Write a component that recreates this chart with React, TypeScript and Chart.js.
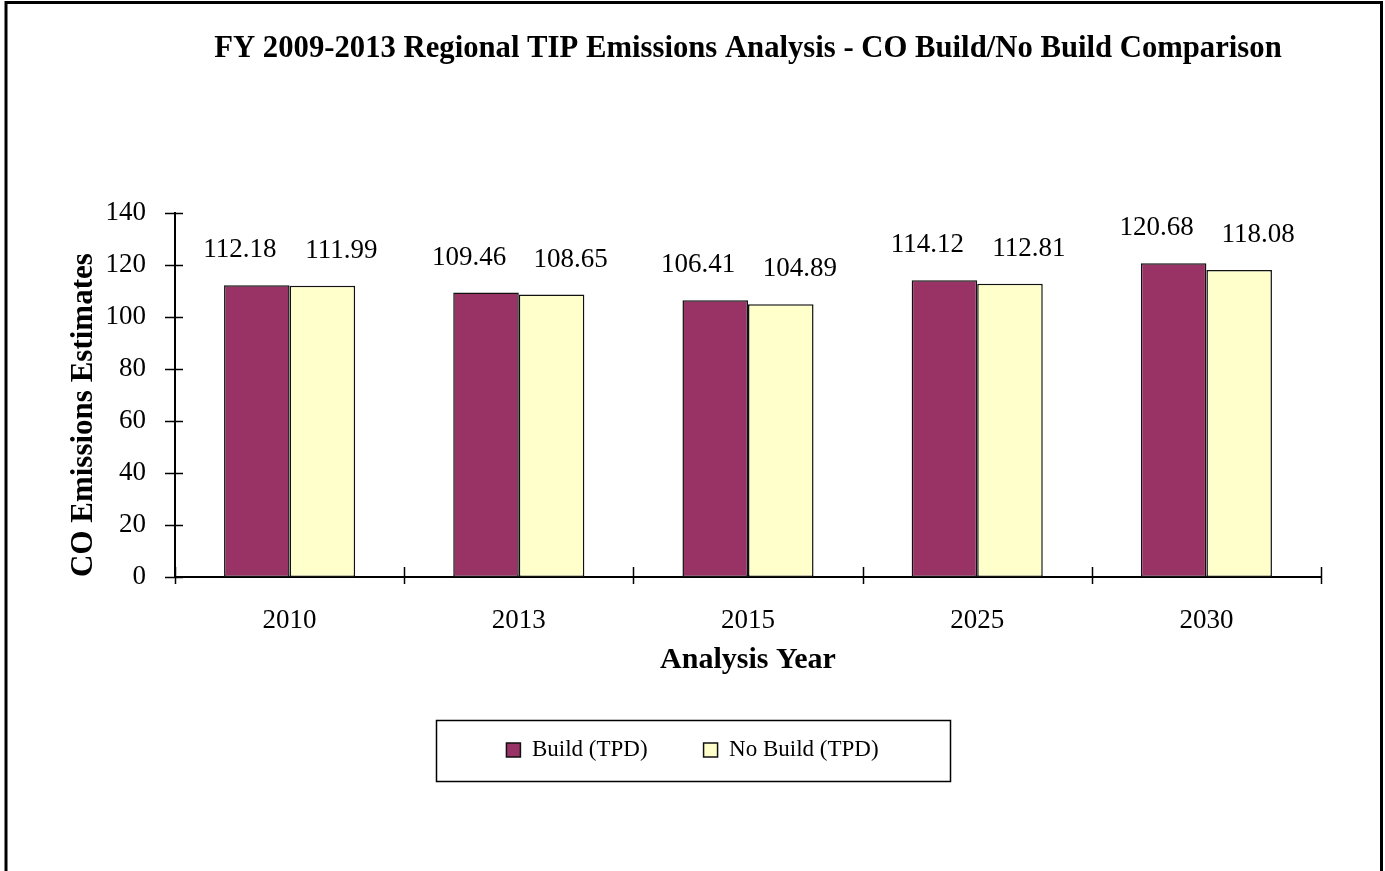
import React, { useEffect, useRef } from 'react';
import { Chart, registerables } from 'chart.js';

Chart.register(...registerables);

// ---- data ----
const years: string[] = ['2010', '2013', '2015', '2025', '2030'];
const buildValues: number[] = [112.18, 109.46, 106.41, 114.12, 120.68];
const noBuildValues: number[] = [111.99, 108.65, 104.89, 112.81, 118.08];
const seriesNames: string[] = ['Build (TPD)', 'No Build (TPD)'];
const yMin = 0;
const yMax = 140;
const yStep = 20;
const chartTitle = 'FY 2009-2013 Regional TIP Emissions Analysis - CO Build/No Build Comparison';
const yAxisTitle = 'CO Emissions Estimates';
const xAxisTitle = 'Analysis Year';

// ---- style ----
const FONT = "'Liberation Serif', 'Times New Roman', serif";
const BUILD_COLOR = '#993366';
const NOBUILD_COLOR = '#FFFFCC';
const EDGE = '#111111';
const LABEL_DX = [-17, 19];
const LABEL_DY = -35;

const bgPlugin = {
  id: 'bg',
  beforeDraw(chart: any) {
    const ctx = chart.ctx;
    ctx.save();
    ctx.fillStyle = '#fff';
    ctx.fillRect(0, 0, chart.width, chart.height);
    ctx.restore();
  },
};

const framePlugin = {
  id: 'frame',
  afterDraw(chart: any) {
    const ctx = chart.ctx;
    ctx.save();
    ctx.strokeStyle = '#000';
    ctx.lineWidth = 3;
    ctx.strokeRect(6, 2.5, chart.width - 9.5, chart.height + 20);
    ctx.restore();
  },
};

const valueLabelPlugin = {
  id: 'valueLabels',
  afterDatasetsDraw(chart: any) {
    const ctx = chart.ctx;
    ctx.save();
    ctx.font = `27px ${FONT}`;
    ctx.fillStyle = '#000';
    ctx.textAlign = 'center';
    ctx.textBaseline = 'middle';
    chart.data.datasets.forEach((ds: any, di: number) => {
      const meta = chart.getDatasetMeta(di);
      meta.data.forEach((bar: any, i: number) => {
        const v = ds.data[i] as number;
        ctx.fillText(v.toFixed(2), bar.x + LABEL_DX[di], bar.y + LABEL_DY);
      });
    });
    ctx.restore();
  },
};

const crossTickPlugin = {
  id: 'crossTicks',
  afterDraw(chart: any) {
    const ctx = chart.ctx;
    const xs = chart.scales.x;
    const ys = chart.scales.y;
    const area = chart.chartArea;
    ctx.save();
    ctx.strokeStyle = '#000';
    ctx.lineWidth = 1.5;
    ctx.beginPath();
    ys.ticks.forEach((t: any) => {
      const py = Math.round(ys.getPixelForValue(t.value)) + 0.5;
      ctx.moveTo(area.left - 10, py);
      ctx.lineTo(area.left + 8, py);
    });
    const n = chart.data.labels.length;
    for (let i = 0; i <= n; i++) {
      const px = Math.round(xs.left + (i * xs.width) / n) + 0.5;
      ctx.moveTo(px, area.bottom - 10);
      ctx.lineTo(px, area.bottom + 7);
    }
    ctx.stroke();
    ctx.restore();
  },
};

const legendBoxPlugin = {
  id: 'legendBox',
  afterDraw(chart: any) {
    const lg = chart.legend;
    if (!lg || !lg.legendHitBoxes || !lg.legendHitBoxes.length) return;
    const hb = lg.legendHitBoxes;
    const first = hb[0];
    const last = hb[hb.length - 1];
    const cy = first.top + first.height / 2;
    const cx = (first.left + last.left + last.width) / 2;
    const w = 514;
    const h = 61;
    const ctx = chart.ctx;
    ctx.save();
    ctx.strokeStyle = '#000';
    ctx.lineWidth = 1.5;
    ctx.strokeRect(Math.round(cx - w / 2) + 0.5, Math.round(cy - h / 2) + 0.5, w, h);
    ctx.restore();
  },
};

export default function App() {
  const ref = useRef<HTMLCanvasElement | null>(null);

  useEffect(() => {
    if (!ref.current) return;
    const chart = new Chart(ref.current, {
      type: 'bar',
      data: {
        labels: years,
        datasets: [
          {
            label: seriesNames[0],
            data: buildValues,
            backgroundColor: BUILD_COLOR,
            borderColor: EDGE,
            borderWidth: 1.5,
            borderSkipped: false,
            barPercentage: 1,
            categoryPercentage: 0.572,
          },
          {
            label: seriesNames[1],
            data: noBuildValues,
            backgroundColor: NOBUILD_COLOR,
            borderColor: EDGE,
            borderWidth: 1.5,
            borderSkipped: false,
            barPercentage: 1,
            categoryPercentage: 0.572,
          },
        ],
      },
      options: {
        responsive: false,
        animation: false,
        devicePixelRatio: 1,
        layout: { padding: { top: 0, left: 0, right: 0, bottom: 99.5 } },
        plugins: {
          title: {
            display: true,
            text: chartTitle,
            fullSize: false,
            color: '#000',
            font: { family: FONT, size: 30.7, weight: 'bold', lineHeight: 1.2 },
            padding: { top: 30.5, bottom: 145.7 },
          },
          legend: {
            display: true,
            position: 'bottom',
            labels: {
              color: '#000',
              font: { family: FONT, size: 23 },
              boxWidth: 14,
              boxHeight: 14,
              padding: 56,
            },
          },
          tooltip: { enabled: false },
        },
        scales: {
          x: {
            afterFit(scale: any) {
              scale.height = 105.5;
            },
            grid: { display: false, drawTicks: false },
            border: { display: true, color: '#000', width: 2 },
            ticks: {
              color: '#000',
              font: { family: FONT, size: 27 },
              padding: 28,
            },
            title: {
              display: true,
              text: xAxisTitle,
              color: '#000',
              font: { family: FONT, size: 30, weight: 'bold', lineHeight: 1.2 },
              padding: { top: 0, bottom: 4.5 },
            },
          },
          y: {
            min: yMin,
            max: yMax,
            afterFit(scale: any) {
              scale.width = 175;
            },
            grid: { display: false, drawTicks: false },
            border: { display: true, color: '#000', width: 2 },
            ticks: {
              stepSize: yStep,
              color: '#000',
              font: { family: FONT, size: 27 },
              padding: 29,
            },
            title: {
              display: true,
              text: yAxisTitle,
              align: 'start',
              color: '#000',
              font: { family: FONT, size: 31, weight: 'bold', lineHeight: 1.2 },
              padding: { top: 65, bottom: 0 },
            },
          },
          // empty right-hand margin (no ticks, no line) so the chart area ends where the reference's does
          yRight: {
            position: 'right',
            display: true,
            afterFit(scale: any) {
              scale.width = 64;
            },
            grid: { display: false, drawTicks: false },
            border: { display: false },
            ticks: { display: false },
          },
        },
      },
      plugins: [bgPlugin, valueLabelPlugin, crossTickPlugin, legendBoxPlugin, framePlugin],
    } as any);
    return () => chart.destroy();
  }, []);

  return (
    <div style={{ width: 1385, height: 871, overflow: 'hidden' }}>
      <style>{'body{margin:0;overflow:hidden;}'}</style>
      <canvas ref={ref} width={1385} height={871} style={{ display: 'block' }} />
    </div>
  );
}
